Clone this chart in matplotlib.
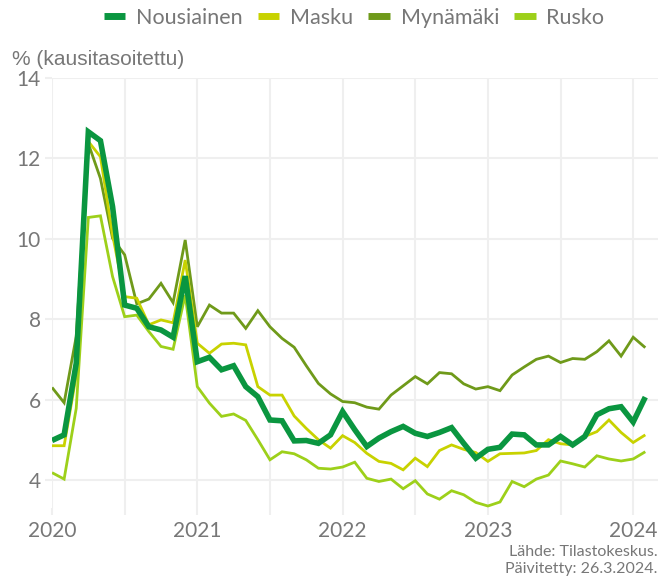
import numpy as np
import matplotlib
matplotlib.use("Agg")
from matplotlib import pyplot as plt
from matplotlib.lines import Line2D

# Kuukausittaiset työttömyysasteet, tammikuu 2020 - helmikuu 2024
nousiainen = [4.98, 5.12, 6.9, 12.66, 12.44, 10.8, 8.35, 8.27, 7.81, 7.73, 7.55, 9.07,
              6.94, 7.05, 6.74, 6.84, 6.32, 6.07, 5.49, 5.47, 4.97, 4.98, 4.91, 5.12,
              5.7, 5.25, 4.83, 5.04, 5.2, 5.33, 5.16, 5.08, 5.18, 5.3, 4.91, 4.54,
              4.76, 4.81, 5.14, 5.12, 4.87, 4.87, 5.08, 4.87, 5.08, 5.62, 5.77, 5.82,
              5.44, 6.06]
masku = [4.85, 4.85, 6.6, 12.42, 12.04, 10.1, 8.56, 8.52, 7.86, 7.98, 7.91, 9.47,
         7.4, 7.15, 7.38, 7.4, 7.36, 6.32, 6.11, 6.11, 5.59, 5.28, 5.0, 4.79,
         5.1, 4.93, 4.66, 4.46, 4.41, 4.25, 4.54, 4.33, 4.73, 4.87, 4.76, 4.68,
         4.46, 4.65, 4.66, 4.67, 4.73, 5.0, 4.9, 4.87, 5.08, 5.2, 5.49, 5.18,
         4.93, 5.12]
mynamaki = [6.3, 5.92, 7.57, 12.37, 11.5, 10.01, 9.6, 8.38, 8.5, 8.89, 8.41, 9.97,
            7.81, 8.35, 8.15, 8.15, 7.77, 8.21, 7.81, 7.52, 7.3, 6.84, 6.4, 6.14,
            5.95, 5.92, 5.81, 5.76, 6.11, 6.34, 6.57, 6.39, 6.67, 6.64, 6.39, 6.26,
            6.32, 6.22, 6.61, 6.81, 7.0, 7.08, 6.92, 7.02, 7.0, 7.19, 7.46, 7.08,
            7.55, 7.29]
rusko = [4.18, 4.02, 5.78, 10.53, 10.57, 9.06, 8.06, 8.1, 7.69, 7.32, 7.25, 8.6,
         6.32, 5.91, 5.58, 5.64, 5.48, 5.0, 4.5, 4.7, 4.65, 4.5, 4.29, 4.27,
         4.32, 4.44, 4.04, 3.96, 4.02, 3.78, 3.98, 3.65, 3.52, 3.73, 3.63, 3.44,
         3.35, 3.45, 3.96, 3.83, 4.02, 4.12, 4.47, 4.4, 4.32, 4.6, 4.52, 4.47,
         4.52, 4.7]

nimet = ["Nousiainen", "Masku", "Mynämäki", "Rusko"]
varit = ["#0a9640", "#c8d200", "#6f9a1a", "#9dd01a"]
paksuus = [4.0, 2.0, 2.0, 2.0]

vuodet = [2020, 2021, 2022, 2023, 2024]

x = 2020 + np.arange(len(nousiainen)) / 12.0

plt.rcParams['font.family'] = ['Lato', 'DejaVu Sans']
harmaa = "#777777"
ruudukko = "#efefef"

fig = plt.figure(figsize=(6.72, 5.79), dpi=100)
ax = fig.add_axes([0.0774, 0.1226, 0.9016, 0.7427])

sarjat = [nousiainen, masku, mynamaki, rusko]
# piirretään ohuet ensin, paksu Nousiainen päälle
for i in [2, 1, 3, 0]:
    ax.plot(x, sarjat[i], color=varit[i], lw=paksuus[i], solid_joinstyle="miter",
            solid_capstyle="butt", zorder=3)

ax.set_xlim(2020, 2024.17)
ax.set_ylim(3.3, 14)
ax.set_yticks([4, 6, 8, 10, 12, 14])
ax.set_xticks(vuodet)
ax.set_xticklabels([str(v) for v in vuodet])
ax.set_xticks([v + 0.5 for v in vuodet[:-1]], minor=True)
ax.grid(True, which="both", color=ruudukko, lw=1.5, zorder=0)
for s in ax.spines.values():
    s.set_visible(False)
ax.tick_params(axis="both", which="both", colors=ruudukko, length=5, width=1.5,
               labelcolor=harmaa, labelsize=15)
ax.tick_params(axis="x", pad=4)
ax.tick_params(axis="y", pad=3)

fig.text(0.018, 0.898, "% (kausitasoitettu)", color=harmaa, fontsize=15,
         family=["Liberation Sans", "DejaVu Sans"], ha="left", va="center")

kahvat = [Line2D([0], [0], color=varit[i], lw=5, solid_capstyle="butt") for i in range(4)]
leg = fig.legend(kahvat, nimet, loc="center", bbox_to_anchor=(0.527, 0.969), ncol=4,
                 frameon=False, fontsize=15.5, handlelength=1.0, handletextpad=0.5,
                 columnspacing=0.7)
for t in leg.get_texts():
    t.set_color(harmaa)

fig.text(0.978, 0.047, "Lähde: Tilastokeskus.", color=harmaa, fontsize=11.5,
         ha="right", va="center")
fig.text(0.978, 0.018, "Päivitetty: 26.3.2024.", color=harmaa, fontsize=11.5,
         ha="right", va="center")

fig.savefig("out.png", dpi=100)
